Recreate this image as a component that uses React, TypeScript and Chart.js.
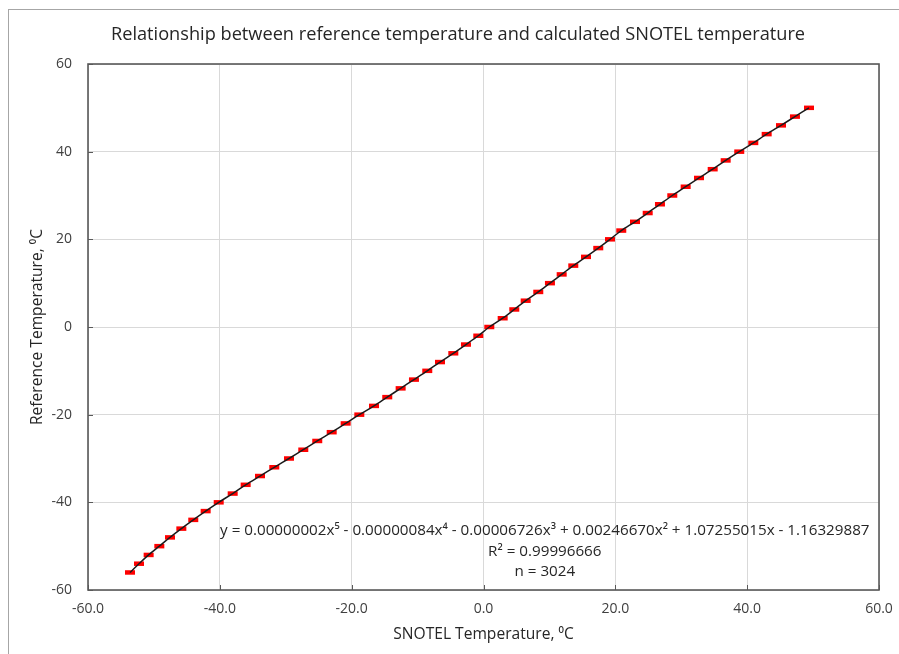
import { useEffect, useRef } from "react";
import { Chart, registerables } from "chart.js";

Chart.register(...registerables);

// Reference temperature (y) for each observation group, °C
const referenceTemps = [
  -56, -54, -52, -50, -48, -46, -44, -42, -40, -38, -36, -34, -32, -30, -28, -26, -24, -22,
  -20, -18, -16, -14, -12, -10, -8, -6, -4, -2, 0, 2, 4, 6, 8, 10, 12, 14, 16, 18,
  20, 22, 24, 26, 28, 30, 32, 34, 36, 38, 40, 42, 44, 46, 48, 50,
];

// Calculated SNOTEL temperature (x), °C
const snotelTemps = [
  -53.63, -52.26, -50.8, -49.18, -47.56, -45.84, -44.03, -42.15, -40.17, -38.05, -36.08,
  -33.91, -31.74, -29.51, -27.34, -25.22, -23.03, -20.91, -18.84, -16.61, -14.6, -12.57,
  -10.55, -8.53, -6.6, -4.58, -2.66, -0.79, 0.88, 2.91, 4.67, 6.4, 8.31, 10.08, 11.86,
  13.62, 15.55, 17.41, 19.19, 20.9, 22.98, 24.91, 26.77, 28.64, 30.67, 32.69, 34.77,
  36.74, 38.8, 40.93, 42.96, 45.13, 47.25, 49.38,
];

const xTickValues = [-60, -40, -20, 0, 20, 40, 60];
const yTickValues = [-60, -40, -20, 0, 20, 40, 60];

const titleText =
  "Relationship between reference temperature and calculated SNOTEL temperature";
const xAxisTitle = "SNOTEL Temperature, \u2070C";
const yAxisTitle = "Reference Temperature, \u2070C";

const equationLines = [
  "y = 0.00000002x\u2075 - 0.00000084x\u2074 - 0.00006726x\u00B3 + 0.00246670x\u00B2 + 1.07255015x - 1.16329887",
  "R\u00B2 = 0.99996666",
  "n = 3024",
];
// anchor of the equation label, in data units
const equationAnchor = { x: 9.3, y: -46.5 };

const FONT = "'Open Sans', Lato, sans-serif";

export default function App() {
  const canvasRef = useRef<HTMLCanvasElement | null>(null);

  useEffect(() => {
    const canvas = canvasRef.current;
    if (!canvas) return;

    const points = snotelTemps.map((x, i) => ({ x, y: referenceTemps[i] }));

    const overlay = {
      id: "overlay",
      afterDraw(chart: any) {
        const { ctx, chartArea, scales } = chart;
        const xs = scales.x;
        const ys = scales.y;
        ctx.save();
        // chart title
        ctx.fillStyle = "#262626";
        ctx.font = `18.2px ${FONT}`;
        ctx.textAlign = "center";
        ctx.textBaseline = "middle";
        ctx.fillText(titleText, chart.width / 2 + 4, 25);
        // inside tick marks
        ctx.strokeStyle = "#595959";
        ctx.lineWidth = 1;
        xTickValues.forEach((v) => {
          const px = Math.round(xs.getPixelForValue(v)) + 0.5;
          ctx.beginPath();
          ctx.moveTo(px, chartArea.bottom);
          ctx.lineTo(px, chartArea.bottom - 5);
          ctx.stroke();
        });
        yTickValues.forEach((v) => {
          const py = Math.round(ys.getPixelForValue(v)) + 0.5;
          ctx.beginPath();
          ctx.moveTo(chartArea.left, py);
          ctx.lineTo(chartArea.left + 5, py);
          ctx.stroke();
        });
        // plot area frame
        ctx.strokeStyle = "#595959";
        ctx.lineWidth = 1.6;
        ctx.strokeRect(
          chartArea.left,
          chartArea.top,
          chartArea.right - chartArea.left,
          chartArea.bottom - chartArea.top
        );
        // trendline equation
        ctx.fillStyle = "#262626";
        ctx.font = `15.2px ${FONT}`;
        ctx.textAlign = "center";
        ctx.textBaseline = "middle";
        const ex = xs.getPixelForValue(equationAnchor.x);
        const ey = ys.getPixelForValue(equationAnchor.y);
        equationLines.forEach((line, i) => {
          ctx.fillText(line, ex, ey + i * 20.5);
        });
        ctx.restore();
      },
    };

    const chart = new Chart(canvas, {
      type: "scatter",
      data: {
        datasets: [
          {
            label: "Trendline",
            data: points,
            showLine: true,
            borderColor: "#1a1a1a",
            borderWidth: 1.5,
            pointRadius: 0,
            pointHoverRadius: 0,
            tension: 0.3,
            order: 0,
          },
          {
            label: "Reference vs SNOTEL",
            data: points,
            showLine: false,
            pointStyle: "line",
            pointRadius: 5,
            pointBorderWidth: 4.5,
            borderColor: "#ff0000",
            backgroundColor: "#ff0000",
            order: 1,
          },
        ],
      },
      options: {
        responsive: false,
        animation: false,
        devicePixelRatio: 1,
        layout: { padding: { left: 0, right: 20, top: 54, bottom: 0 } },
        plugins: {
          legend: { display: false },
          tooltip: { enabled: false },
          title: { display: false },
        },
        scales: {
          x: {
            type: "linear",
            min: -60,
            max: 60,
            afterFit: (s: any) => {
              s.height = 64;
              s.paddingLeft = 0;
              s.paddingRight = 0;
            },
            afterBuildTicks: (s: any) => {
              s.ticks = xTickValues.map((v) => ({ value: v }));
            },
            ticks: {
              color: "#404040",
              font: { family: FONT, size: 14 },
              padding: 11,
              maxRotation: 0,
              callback: (v: any) => Number(v).toFixed(1),
            },
            grid: { color: "#d9d9d9", lineWidth: 1, drawTicks: false },
            border: { display: false },
            title: {
              display: true,
              text: xAxisTitle,
              color: "#262626",
              font: { family: FONT, size: 15.6 },
              padding: { top: 0, bottom: 10.5 },
            },
          },
          y: {
            type: "linear",
            min: -60,
            max: 60,
            afterFit: (s: any) => {
              s.width = 79;
              s.paddingTop = 0;
              s.paddingBottom = 0;
            },
            afterBuildTicks: (s: any) => {
              s.ticks = yTickValues.map((v) => ({ value: v }));
            },
            ticks: {
              color: "#404040",
              font: { family: FONT, size: 14 },
              padding: 16,
              callback: (v: any) => String(v),
            },
            grid: { color: "#d9d9d9", lineWidth: 1, drawTicks: false },
            border: { display: false },
            title: {
              display: true,
              text: yAxisTitle,
              color: "#262626",
              font: { family: FONT, size: 15.6 },
              padding: { top: 19.5, bottom: 0 },
            },
          },
        },
      },
      plugins: [overlay],
    });

    return () => chart.destroy();
  }, []);

  return (
    <div
      style={{
        position: "fixed",
        left: 8,
        top: 9,
        width: 890,
        height: 645,
        borderLeft: "1px solid #a6a6a6",
        borderTop: "1px solid #a6a6a6",
        background: "#ffffff",
      }}
    >
      <canvas ref={canvasRef} width={890} height={644} style={{ display: "block" }} />
    </div>
  );
}
